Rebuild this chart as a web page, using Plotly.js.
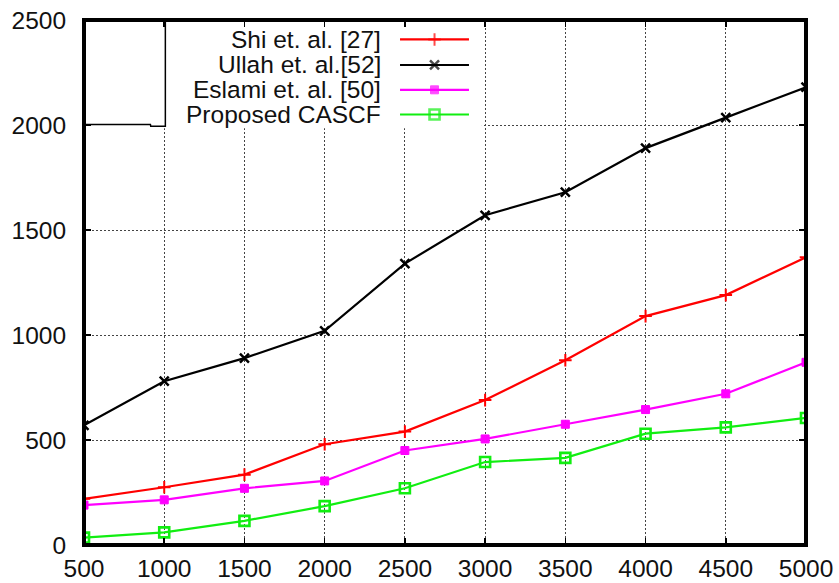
<!DOCTYPE html>
<html>
<head>
<meta charset="utf-8">
<script src="https://cdn.plot.ly/plotly-3.0.1.min.js"></script>
<style>
  html, body { margin: 0; padding: 0; background: #fff; }
  #chart { width: 839px; height: 583px; }
</style>
</head>
<body>
<div id="chart"></div>
<script>
// Number of requests on the x axis, time on the y axis
const requests = [500, 1000, 1500, 2000, 2500, 3000, 3500, 4000, 4500, 5000];

const shi     = [220, 275, 335, 480, 540, 690, 880, 1090, 1190, 1370];
const ullah   = [570, 780, 890, 1020, 1340, 1570, 1680, 1890, 2035, 2180];
const eslami  = [190, 215, 270, 305, 450, 505, 575, 645, 720, 870];
const cascf   = [35, 60, 115, 185, 270, 395, 415, 530, 560, 605];

const seriesNames = ['Shi et. al. [27]', 'Ullah et. al.[52]', 'Eslami et. al. [50]', 'Proposed CASCF'];

const yTicks = [0, 500, 1000, 1500, 2000, 2500];
const xTicks = requests;

const FONT = 'Liberation Sans, Arial, Helvetica, sans-serif';

const styles = [
  { color: '#ff0000', symbol: 'cross-thin', size: 9, lw: 2 },
  { color: '#000000', symbol: 'x-thin', size: 9, lw: 2.5 },
  { color: '#ff00ff', symbol: 'square', size: 8, lw: 1 },
  { color: '#11ee11', symbol: 'square-open', size: 10, lw: 2.6 }
];
const values = [shi, ullah, eslami, cascf];

const traces = values.map((v, i) => ({
  x: requests,
  y: v,
  type: 'scatter',
  mode: 'lines+markers',
  name: seriesNames[i],
  showlegend: false,
  hoverinfo: 'x+y+name',
  line: { color: styles[i].color, width: 2.2 },
  marker: {
    symbol: styles[i].symbol,
    size: styles[i].size,
    color: styles[i].color,
    line: { color: styles[i].color, width: styles[i].lw }
  }
}));

// Hand-built key: text on the left, sample line on the right
const keyRows = [0.963, 0.9143, 0.867, 0.82];
const keyLineX = [0.4377, 0.4855, 0.5332];
const keyTextX = 0.414;

keyRows.forEach((ky, i) => {
  traces.push({
    x: keyLineX,
    y: [ky, ky, ky],
    xaxis: 'x2',
    yaxis: 'y2',
    type: 'scatter',
    mode: 'lines+markers',
    showlegend: false,
    hoverinfo: 'skip',
    line: { color: styles[i].color, width: 2.2 },
    marker: {
      symbol: styles[i].symbol,
      size: [0, styles[i].size, 0],
      color: styles[i].color,
      line: { color: styles[i].color, width: styles[i].lw }
    }
  });
});

const annotations = seriesNames.map((t, i) => ({
  xref: 'paper', yref: 'paper',
  x: keyTextX, y: keyRows[i],
  xanchor: 'right', yanchor: 'middle',
  text: t,
  showarrow: false,
  font: { family: FONT, size: 24.5, color: '#111' }
}));

const axisCommon = {
  showgrid: true,
  gridcolor: '#444',
  gridwidth: 1,
  griddash: '2px,2px',
  zeroline: false,
  ticks: 'inside',
  ticklen: 7,
  tickwidth: 1.5,
  tickcolor: '#000',
  showline: true,
  linecolor: '#000',
  linewidth: 1,
  mirror: 'allticks',
  tickfont: { family: FONT, size: 24.5, color: '#111' }
};

const layout = {
  width: 839,
  height: 583,
  margin: { l: 84, r: 33, t: 20, b: 38 },
  paper_bgcolor: '#fff',
  plot_bgcolor: '#fff',
  showlegend: false,
  xaxis: Object.assign({}, axisCommon, {
    range: [500, 5000],
    tickmode: 'array',
    tickvals: xTicks,
    ticktext: xTicks.map(String),
    ticklabelstandoff: 2
  }),
  yaxis: Object.assign({}, axisCommon, {
    range: [0, 2500],
    tickmode: 'array',
    tickvals: yTicks,
    ticktext: yTicks.map(String),
    ticklabelstandoff: 12
  }),
  xaxis2: { overlaying: 'x', range: [0, 1], visible: false, fixedrange: true },
  yaxis2: { overlaying: 'y', range: [0, 1], visible: false, fixedrange: true },
  annotations: annotations,
  shapes: [
    // white panel behind the key
    {
      type: 'rect', xref: 'x', yref: 'y',
      x0: 500, x1: 2980, y0: 1985, y1: 2500,
      fillcolor: '#fff', line: { width: 0 }, layer: 'between'
    },
    // thin outline left over in the key corner
    {
      type: 'path', xref: 'x', yref: 'y',
      path: 'M 500 2002 L 914 2002 L 916 1994 L 1007 1994 L 1007 2500',
      line: { color: '#000', width: 1.5 }, layer: 'above'
    },
    // heavy frame around the plot area
    {
      type: 'rect', xref: 'paper', yref: 'paper',
      x0: 0, x1: 1, y0: 0, y1: 1,
      line: { color: '#000', width: 4 }, layer: 'above'
    }
  ]
};

Plotly.newPlot('chart', traces, layout, { displayModeBar: false, staticPlot: true });
</script>
</body>
</html>
